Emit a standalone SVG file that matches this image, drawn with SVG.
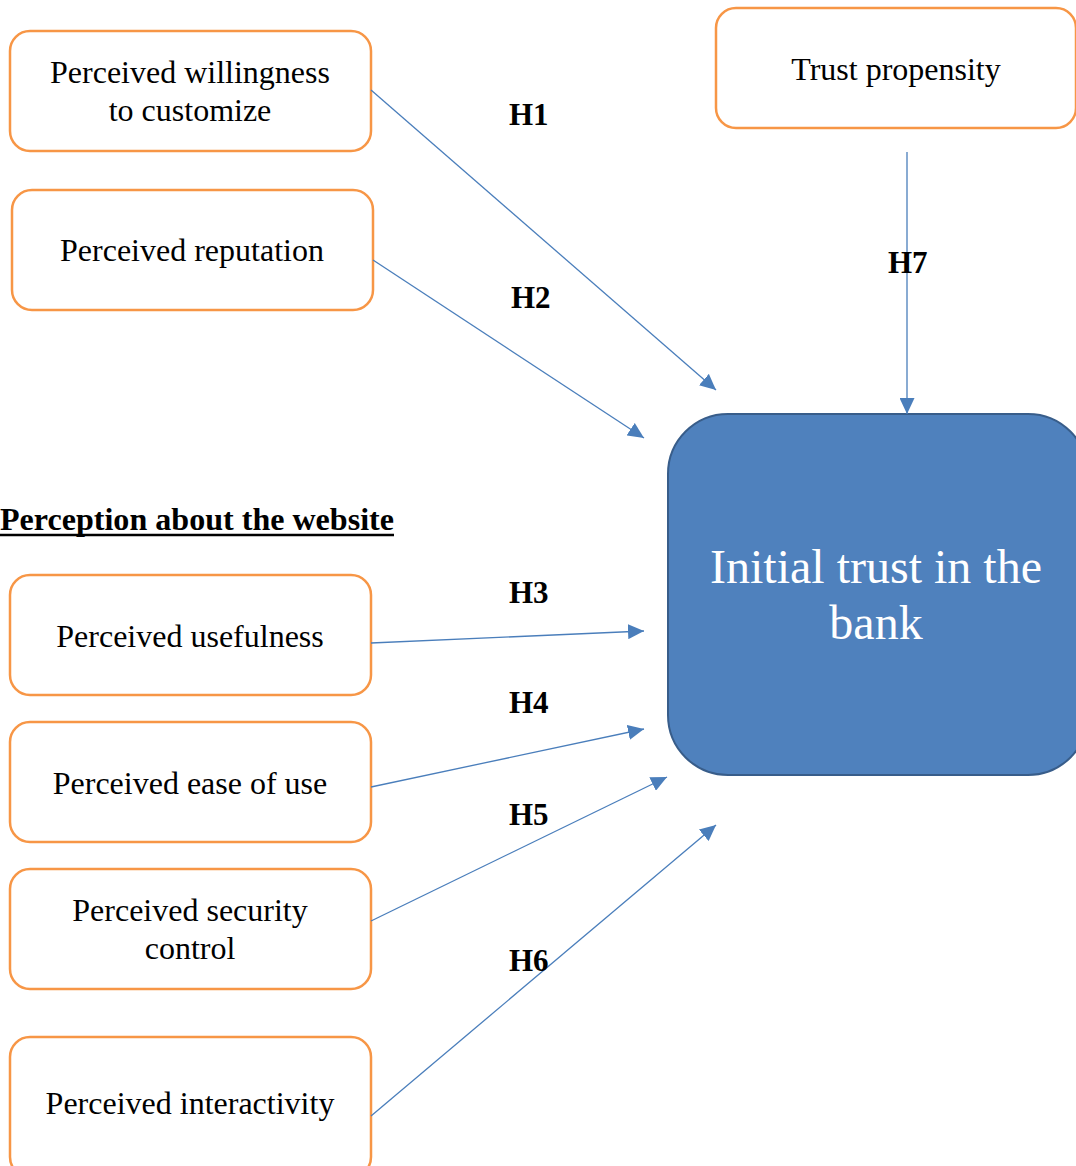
<svg xmlns="http://www.w3.org/2000/svg" width="1076" height="1166" viewBox="0 0 1076 1166">
<style>
.box{fill:#fff;stroke:#F79646;stroke-width:2.5}
.t{font-family:"Liberation Serif","Times New Roman",serif;font-size:32px;fill:#000;text-anchor:middle}
.h{font-family:"Liberation Serif","Times New Roman",serif;font-size:31px;font-weight:bold;fill:#000}
.c{stroke:#4A7EBB;stroke-width:1.3;fill:none;marker-end:url(#a)}
</style>
<defs>
<marker id="a" viewBox="0 0 10 10" refX="10" refY="5" markerWidth="16" markerHeight="15" preserveAspectRatio="none" markerUnits="userSpaceOnUse" orient="auto">
<path d="M0,0 L10,5 L0,10 z" fill="#4A7EBB"/>
</marker>
</defs>
<rect width="1076" height="1166" fill="#fff"/>
<g id="n1"><rect class="box" x="10" y="31" width="361" height="120" rx="20"/><text class="t" x="190" y="83">Perceived willingness</text><text class="t" x="190" y="121">to customize</text></g>
<g id="n2"><rect class="box" x="12" y="190" width="361" height="120" rx="20"/><text class="t" x="192" y="261">Perceived reputation</text></g>
<g id="n3"><rect class="box" x="716" y="8" width="360" height="120" rx="20"/><text class="t" x="896" y="80">Trust propensity</text></g>
<g id="n4"><rect class="box" x="10" y="575" width="361" height="120" rx="20"/><text class="t" x="190" y="647">Perceived usefulness</text></g>
<g id="n5"><rect class="box" x="10" y="722" width="361" height="120" rx="20"/><text class="t" x="190" y="794">Perceived ease of use</text></g>
<g id="n6"><rect class="box" x="10" y="869" width="361" height="120" rx="20"/><text class="t" x="190" y="921">Perceived security</text><text class="t" x="190" y="959">control</text></g>
<g id="n7"><rect class="box" x="10" y="1037" width="361" height="140" rx="20"/><text class="t" x="190" y="1114">Perceived interactivity</text></g>
<g id="main"><rect x="668" y="414" width="420" height="361" rx="60" fill="#4F81BD" stroke="#385D8A" stroke-width="2"/><text x="876" y="583" font-family="'Liberation Serif','Times New Roman',serif" font-size="48" fill="#fff" text-anchor="middle">Initial trust in the</text><text x="876" y="639" font-family="'Liberation Serif','Times New Roman',serif" font-size="48" fill="#fff" text-anchor="middle">bank</text></g>
<g id="heading"><text class="h" x="0" y="530" font-size="32" textLength="394" lengthAdjust="spacingAndGlyphs">Perception about the website</text><line x1="0" y1="535" x2="394" y2="535" stroke="#000" stroke-width="2.5"/></g>
<g id="connectors">
<line class="c" x1="371" y1="90" x2="716" y2="390"/>
<line class="c" x1="373" y1="260" x2="644" y2="438"/>
<line class="c" x1="907" y1="152" x2="907" y2="414"/>
<line class="c" x1="371" y1="643" x2="644" y2="631"/>
<line class="c" x1="371" y1="787" x2="644" y2="729"/>
<line class="c" x1="371" y1="921" x2="667" y2="777"/>
<line class="c" x1="371" y1="1116" x2="716" y2="825"/>
</g>
<g id="labels">
<text class="h" x="509" y="125">H1</text>
<text class="h" x="511" y="308">H2</text>
<text class="h" x="888" y="273">H7</text>
<text class="h" x="509" y="603">H3</text>
<text class="h" x="509" y="713">H4</text>
<text class="h" x="509" y="825">H5</text>
<text class="h" x="509" y="971">H6</text>
</g>
</svg>
